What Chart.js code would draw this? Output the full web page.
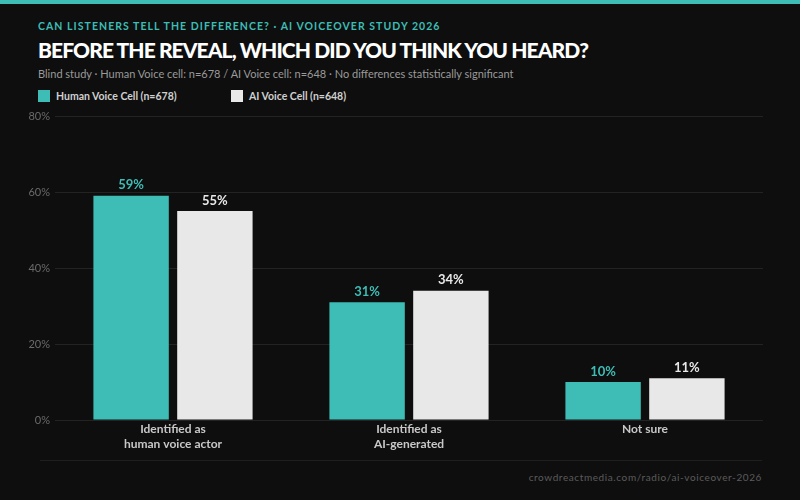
<!DOCTYPE html>
<html>
<head>
<meta charset="utf-8">
<script src="https://cdn.jsdelivr.net/npm/chart.js@4.4.1/dist/chart.umd.min.js"></script>
<style>
  html, body { margin: 0; padding: 0; }
  body { width: 800px; height: 500px; background: #0e0e0e; font-family: Lato, "Open Sans", sans-serif; position: relative; overflow: hidden; }
  .topbar { position: absolute; left: 0; top: 0; width: 800px; height: 4px; background: #3dbdb5; }
  .kicker { position: absolute; left: 38px; top: 20px; font-size: 10.5px; font-weight: 700; letter-spacing: 1.05px; color: #3dbdb5; }
  .title { position: absolute; left: 38px; top: 37px; font-size: 21px; font-weight: 900; letter-spacing: -0.9px; color: #fff; }
  .sub { position: absolute; left: 38px; top: 67px; font-size: 11px; color: #9a9a9a; }
  .legend { position: absolute; top: 90px; font-size: 10.5px; font-weight: 700; color: #d0d0d0; }
  .legend span { display: inline-block; width: 12px; height: 12px; vertical-align: -2px; margin-right: 6px; }
  .wrap { position: absolute; left: 0; top: 100px; width: 800px; height: 360px; }
  .rule { position: absolute; left: 40px; top: 460px; width: 722px; height: 1px; background: #1f1f1f; }
  .source { position: absolute; right: 38px; top: 471px; font-size: 10px; letter-spacing: 0.6px; color: #5c5c5c; }
</style>
</head>
<body>
<div class="topbar"></div>
<div class="kicker">CAN LISTENERS TELL THE DIFFERENCE? · AI VOICEOVER STUDY 2026</div>
<div class="title">BEFORE THE REVEAL, WHICH DID YOU THINK YOU HEARD?</div>
<div class="sub">Blind study · Human Voice cell: n=678 / AI Voice cell: n=648 · No differences statistically significant</div>
<div class="legend" style="left:38px"><span style="background:#3dbdb5"></span>Human Voice Cell (n=678)</div>
<div class="legend" style="left:231px"><span style="background:#e8e8e8"></span>AI Voice Cell (n=648)</div>
<div class="wrap"><canvas id="chart"></canvas></div>
<div class="rule"></div>
<div class="source">crowdreactmedia.com/radio/ai-voiceover-2026</div>

<script>
var categories = [['Identified as', 'human voice actor'], ['Identified as', 'AI-generated'], 'Not sure'];
var humanValues = [59, 31, 10];
var aiValues = [55, 34, 11];
var seriesNames = ['Human Voice Cell (n=678)', 'AI Voice Cell (n=648)'];
var tickValues = [0, 20, 40, 60, 80];

var teal = '#3dbdb5';
var light = '#e8e8e8';

// value labels above each bar
var valueLabels = {
    id: 'valueLabels',
    afterDatasetsDraw: function(chart) {
        var ctx = chart.ctx;
        ctx.save();
        ctx.font = 'bold 13px Lato, sans-serif';
        ctx.textAlign = 'center';
        ctx.textBaseline = 'bottom';
        chart.data.datasets.forEach(function(ds, i) {
            var meta = chart.getDatasetMeta(i);
            ctx.fillStyle = i === 0 ? teal : light;
            meta.data.forEach(function(bar, j) {
                ctx.fillText(ds.data[j] + '%', bar.x, bar.y - 4);
            });
        });
        ctx.restore();
    }
};

new Chart(document.getElementById('chart'), {
    type: 'bar',
    data: {
        labels: categories,
        datasets: [
            { label: seriesNames[0], data: humanValues, backgroundColor: teal },
            { label: seriesNames[1], data: aiValues, backgroundColor: light }
        ]
    },
    options: {
        responsive: true,
        maintainAspectRatio: false,
        animation: false,
        datasets: { bar: { categoryPercentage: 0.71, barPercentage: 0.9 } },
        layout: { padding: { top: 16, right: 37, left: 0, bottom: 6 } },
        plugins: { legend: { display: false }, tooltip: { enabled: false } },
        scales: {
            x: {
                grid: { display: false, drawTicks: false },
                border: { display: false },
                ticks: { color: '#c8c8c8', font: { family: 'Lato', size: 12, weight: 'bold', lineHeight: 1.25 }, padding: 2 }
            },
            y: {
                min: 0,
                max: 80,
                afterBuildTicks: function(axis) { axis.ticks = tickValues.map(function(v) { return { value: v }; }); },
                afterFit: function(axis) { axis.width = 55; },
                grid: { color: '#232323', lineWidth: 1, drawTicks: false },
                border: { display: false },
                ticks: { color: '#6a6a6a', font: { family: 'Lato', size: 11 }, padding: 5, callback: function(v) { return v + '%'; } }
            }
        }
    },
    plugins: [valueLabels]
});
</script>
</body>
</html>
